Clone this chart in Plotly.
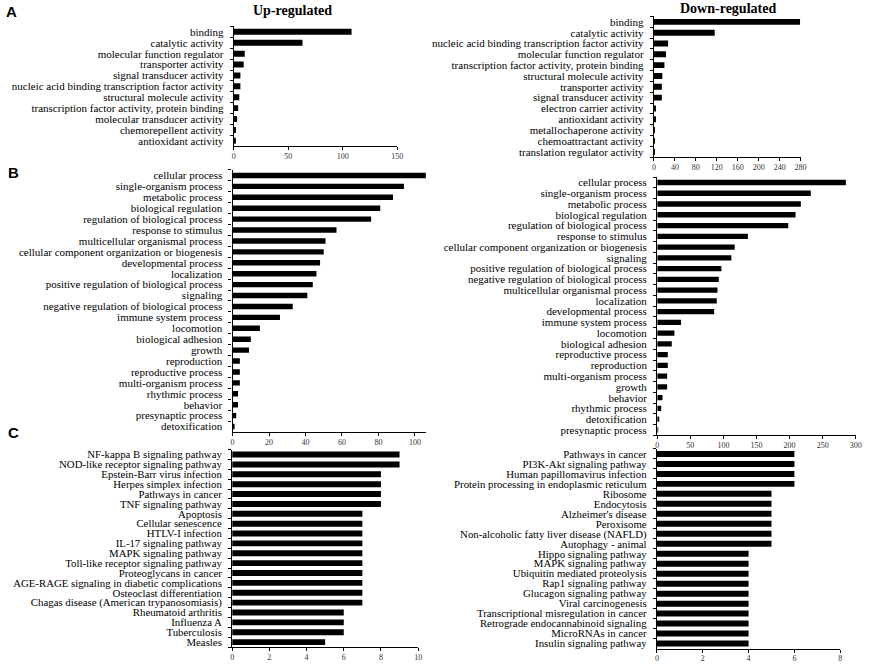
import plotly.graph_objects as go

# ---------------- data ----------------
a_up_terms = ["binding", "catalytic activity", "molecular function regulator", "transporter activity",
              "signal transducer activity", "nucleic acid binding transcription factor activity",
              "structural molecule activity", "transcription factor activity, protein binding",
              "molecular transducer activity", "chemorepellent activity", "antioxidant activity"]
a_up_counts = [108, 63, 10, 9, 6, 6, 5, 4, 3, 2, 1]

a_down_terms = ["binding", "catalytic activity", "nucleic acid binding transcription factor activity",
                "molecular function regulator", "transcription factor activity, protein binding",
                "structural molecule activity", "transporter activity", "signal transducer activity",
                "electron carrier activity", "antioxidant activity", "metallochaperone activity",
                "chemoattractant activity", "translation regulator activity"]
a_down_counts = [279, 116, 27, 23, 20, 16, 15, 15, 3, 2, 1, 1, 1]

b_up_terms = ["cellular process", "single-organism process", "metabolic process", "biological regulation",
              "regulation of biological process", "response to stimulus", "multicellular organismal process",
              "cellular component organization or biogenesis", "developmental process", "localization",
              "positive regulation of biological process", "signaling",
              "negative regulation of biological process", "immune system process", "locomotion",
              "biological adhesion", "growth", "reproduction", "reproductive process",
              "multi-organism process", "rhythmic process", "behavior", "presynaptic process", "detoxification"]
b_up_counts = [106, 94, 88, 81, 76, 57, 51, 50, 48, 46, 44, 41, 33, 26, 15, 10, 9, 4, 4, 4, 3, 3, 2, 1]

b_down_terms = ["cellular process", "single-organism process", "metabolic process", "biological regulation",
                "regulation of biological process", "response to stimulus",
                "cellular component organization or biogenesis", "signaling",
                "positive regulation of biological process", "negative regulation of biological process",
                "multicellular organismal process", "localization", "developmental process",
                "immune system process", "locomotion", "biological adhesion", "reproductive process",
                "reproduction", "multi-organism process", "growth", "behavior", "rhythmic process",
                "detoxification", "presynaptic process"]
b_down_counts = [285, 232, 217, 209, 198, 137, 117, 112, 97, 93, 91, 90, 86, 36, 26, 22, 16, 16, 15, 15, 8, 6, 2, 1]

c_up_terms = ["NF-kappa B signaling pathway", "NOD-like receptor signaling pathway",
              "Epstein-Barr virus infection", "Herpes simplex infection", "Pathways in cancer",
              "TNF signaling pathway", "Apoptosis", "Cellular senescence", "HTLV-I infection",
              "IL-17 signaling pathway", "MAPK signaling pathway", "Toll-like receptor signaling pathway",
              "Proteoglycans in cancer", "AGE-RAGE signaling in diabetic complications",
              "Osteoclast differentiation", "Chagas disease (American trypanosomiasis)",
              "Rheumatoid arthritis", "Influenza A", "Tuberculosis", "Measles"]
c_up_counts = [9, 9, 8, 8, 8, 8, 7, 7, 7, 7, 7, 7, 7, 7, 7, 7, 6, 6, 6, 5]

c_down_terms = ["Pathways in cancer", "PI3K-Akt signaling pathway", "Human papillomavirus infection",
                "Protein processing in endoplasmic reticulum", "Ribosome", "Endocytosis",
                "Alzheimer's disease", "Peroxisome", "Non-alcoholic fatty liver disease (NAFLD)",
                "Autophagy - animal", "Hippo signaling pathway", "MAPK signaling pathway",
                "Ubiquitin mediated proteolysis", "Rap1 signaling pathway", "Glucagon signaling pathway",
                "Viral carcinogenesis", "Transcriptional misregulation in cancer",
                "Retrograde endocannabinoid signaling", "MicroRNAs in cancer", "Insulin signaling pathway"]
c_down_counts = [6, 6, 6, 6, 5, 5, 5, 5, 5, 5, 4, 4, 4, 4, 4, 4, 4, 4, 4, 4]

# ---------------- layout helpers ----------------
W, H = 871, 664
SERIF = "Liberation Serif, Times New Roman, serif"

def px_x(a, b):
    return [a / W, b / W]

def px_y(top, bottom):
    return [1 - bottom / H, 1 - top / H]

panels = [
    # terms, counts, x-domain px, y-domain px (top,bottom), range, dtick, bar width, label size
    (a_up_terms, a_up_counts, (234, 399), (25.5, 145.7), [0, 150], 50, 0.55, 11),
    (a_down_terms, a_down_counts, (658, 806), (15.5, 156.6), [0, 280], 40, 0.55, 11),
    (b_up_terms, b_up_counts, (232.7, 428.3), (169.5, 432.3), [0, 106.3], 20, 0.5, 11),
    (b_down_terms, b_down_counts, (661.3, 861.7), (176.7, 435.6), [0, 300], 50, 0.5, 11),
    (c_up_terms, c_up_counts, (232.3, 420), (450, 648), [0, 10], 2, 0.6, 10.8),
    (c_down_terms, c_down_counts, (661, 846), (449.3, 649.5), [0, 8], 2, 0.6, 10.8),
]

fig = go.Figure()
layout = dict(
    width=W, height=H,
    margin=dict(l=0, r=0, t=0, b=0),
    paper_bgcolor="white", plot_bgcolor="white",
    showlegend=False,
    font=dict(family=SERIF, color="black"),
)

for i, (terms, counts, xd, yd, rng, dt, bw, fs) in enumerate(panels, start=1):
    xa = "x" if i == 1 else f"x{i}"
    ya = "y" if i == 1 else f"y{i}"
    fig.add_trace(go.Bar(
        x=counts, y=terms, orientation="h",
        marker=dict(color="black", line=dict(width=0)),
        width=bw, xaxis=xa, yaxis=ya, hoverinfo="x+y",
    ))
    xkey = "xaxis" if i == 1 else f"xaxis{i}"
    ykey = "yaxis" if i == 1 else f"yaxis{i}"
    layout[xkey] = dict(
        domain=px_x(*xd), anchor=ya, range=rng, dtick=dt, tick0=0,
        showgrid=False, zeroline=False,
        showline=True, linecolor="black", linewidth=1.3,
        ticks="outside", ticklen=3, tickwidth=1, tickcolor="black",
        tickfont=dict(family=SERIF, size=8, color="#333333"),
        ticklabelstandoff=-1,
        fixedrange=True,
    )
    layout[ykey] = dict(
        domain=px_y(*yd), anchor=xa, type="category",
        autorange="reversed",
        tickmode="array", tickvals=terms, ticktext=terms,
        showgrid=False, zeroline=False,
        showline=True, linecolor="black", linewidth=1.3,
        ticks="outside", ticklen=3, tickwidth=1, tickcolor="black",
        tickson="boundaries",
        tickfont=dict(family=SERIF, size=fs, color="black"),
        ticklabelstandoff=7,
        fixedrange=True,
    )

annotations = [
    dict(text="<b>Up-regulated</b>", x=293 / W, y=1 - 10 / H, font=dict(family=SERIF, size=14)),
    dict(text="<b>Down-regulated</b>", x=733 / W, y=1 - 8 / H, font=dict(family=SERIF, size=14)),
    dict(text="<b>A</b>", x=10 / W, y=1 - 11 / H, font=dict(family="Liberation Sans, Arial", size=15)),
    dict(text="<b>B</b>", x=12 / W, y=1 - 172 / H, font=dict(family="Liberation Sans, Arial", size=15)),
    dict(text="<b>C</b>", x=12 / W, y=1 - 433 / H, font=dict(family="Liberation Sans, Arial", size=15)),
]
for a in annotations:
    a.update(xref="paper", yref="paper", showarrow=False, xanchor="center", yanchor="middle")
layout["annotations"] = annotations

fig.update_layout(**layout)
fig.write_html(
    "out.html",
    config={"displayModeBar": False},
    post_script="document.body.style.margin='0';document.body.style.overflow='hidden';",
)
